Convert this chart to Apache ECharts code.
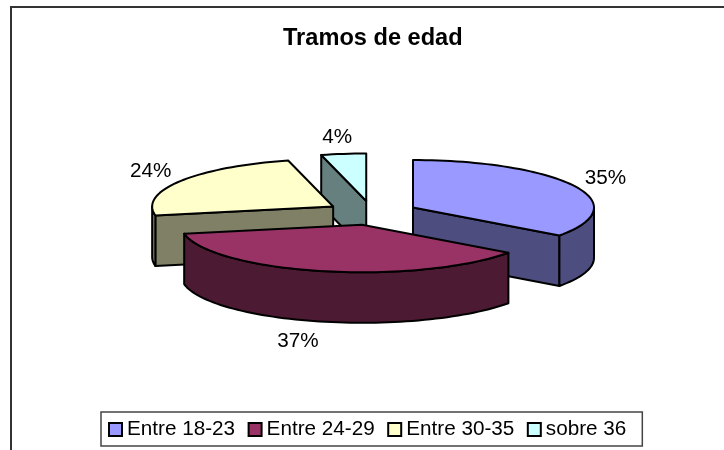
<!DOCTYPE html>
<html><head><meta charset="utf-8">
<style>html,body{margin:0;padding:0;background:#fff}#c{width:724px;height:450px}</style>
<script src="https://cdn.jsdelivr.net/npm/echarts@6/dist/echarts.min.js"></script>
</head><body><div id="c"></div>
<script>
const categories = ['Entre 18-23', 'Entre 24-29', 'Entre 30-35', 'sobre 36'];
const values = [35, 37, 24, 4];
const topColors = ['#9999FF', '#993366', '#FFFFCC', '#CCFFFF'];
const sideColors = ['#4D4D80', '#4D1A33', '#808066', '#668080'];
const paintOrder = [3, 2, 0, 1];
const labelNudge = [[0, 1], [-17, 0], [0, 1], [-2, 3.5]];

const FONT = '"Liberation Sans", Arial, sans-serif';
const pie = { cx: 372, cy: 213, rx: 181, ry: 47.5, depth: 50.5, explode: 46, labelX: 35, labelY: 20 };
const total = values.reduce((a, b) => a + b, 0);
const rad = d => d * Math.PI / 180;
const pt = (c, t, dy) => [c[0] + pie.rx * Math.sin(rad(t)), c[1] - pie.ry * Math.cos(rad(t)) + (dy || 0)];
function arc(c, a, b, dy) {
  const n = Math.max(2, Math.ceil(Math.abs(b - a) / 2)), out = [];
  for (let i = 0; i <= n; i++) out.push(pt(c, a + (b - a) * i / n, dy));
  return out;
}
function sliceElements(idx) {
  let start = 0;
  for (let i = 0; i < idx; i++) start += values[i] / total * 360;
  const end = start + values[idx] / total * 360, mid = (start + end) / 2;
  const c = [pie.cx + pie.explode * Math.sin(rad(mid)),
             pie.cy - pie.explode * pie.ry / pie.rx * Math.cos(rad(mid))];
  const border = { stroke: '#000', lineWidth: 2, lineJoin: 'round' };
  const side = Object.assign({ fill: sideColors[idx] }, border);
  const top = Object.assign({ fill: topColors[idx] }, border);
  const els = [];
  const M = [pie.rx * Math.sin(rad(mid)), -pie.ry * Math.cos(rad(mid))];
  [start, end].forEach(t => {
    const P = [pie.rx * Math.sin(rad(t)), -pie.ry * Math.cos(rad(t))];
    if (Math.abs(P[0]) > 1 && P[1] / P[0] * M[0] > M[1]) {
      const e = pt(c, t);
      els.push({ type: 'polygon', shape: { points: [c, e, [e[0], e[1] + pie.depth], [c[0], c[1] + pie.depth]] }, style: side });
    }
  });
  const a = Math.max(start, 90), b = Math.min(end, 270);
  if (b > a) {
    els.push({ type: 'polygon', shape: { points: arc(c, a, b).concat(arc(c, b, a, pie.depth)) }, style: side });
  }
  els.push({ type: 'polygon', shape: { points: [c].concat(arc(c, start, end)) }, style: top });
  const front = Math.cos(rad(mid)) < 0 ? pie.depth : 0;
  els.push({ type: 'text', style: {
    text: Math.round(values[idx] / total * 100) + '%',
    x: c[0] + (pie.rx + pie.labelX) * Math.sin(rad(mid)) + labelNudge[idx][0],
    y: c[1] - (pie.ry + pie.labelY) * Math.cos(rad(mid)) + front + labelNudge[idx][1],
    align: 'center', verticalAlign: 'middle', fill: '#000', font: '20.7px ' + FONT } });
  return els;
}
const series = categories.map((name, idx) => ({
  type: 'custom', name, coordinateSystem: 'none', silent: true, animation: false,
  z: 2 + paintOrder.indexOf(idx),
  itemStyle: { color: topColors[idx] },
  data: [values[idx]],
  renderItem: () => ({ type: 'group', children: sliceElements(idx) })
}));
const chart = echarts.init(document.getElementById('c'), null, { renderer: 'canvas' });
chart.setOption({
  animation: false,
  backgroundColor: '#fff',
  title: { text: 'Tramos de edad', left: 278, top: 21,
    textStyle: { fontFamily: FONT, fontWeight: 'bold', fontSize: 23.6, color: '#000' } },
  legend: { data: categories, left: 101, top: 412, orient: 'horizontal', icon: 'rect',
    itemWidth: 13, itemHeight: 13, itemGap: 12.5, padding: [7, 16, 6, 7],
    borderColor: '#444', borderWidth: 1.5, backgroundColor: '#fff',
    textStyle: { fontFamily: FONT, fontSize: 20.7, color: '#000' },
    itemStyle: { borderColor: '#000', borderWidth: 2 }, selectedMode: false },
  graphic: [{ type: 'rect', z: 0, silent: true,
    shape: { x: 11, y: 7, width: 800, height: 500 },
    style: { fill: '#fff', stroke: '#333', lineWidth: 2 } }],
  series
});
</script></body></html>
